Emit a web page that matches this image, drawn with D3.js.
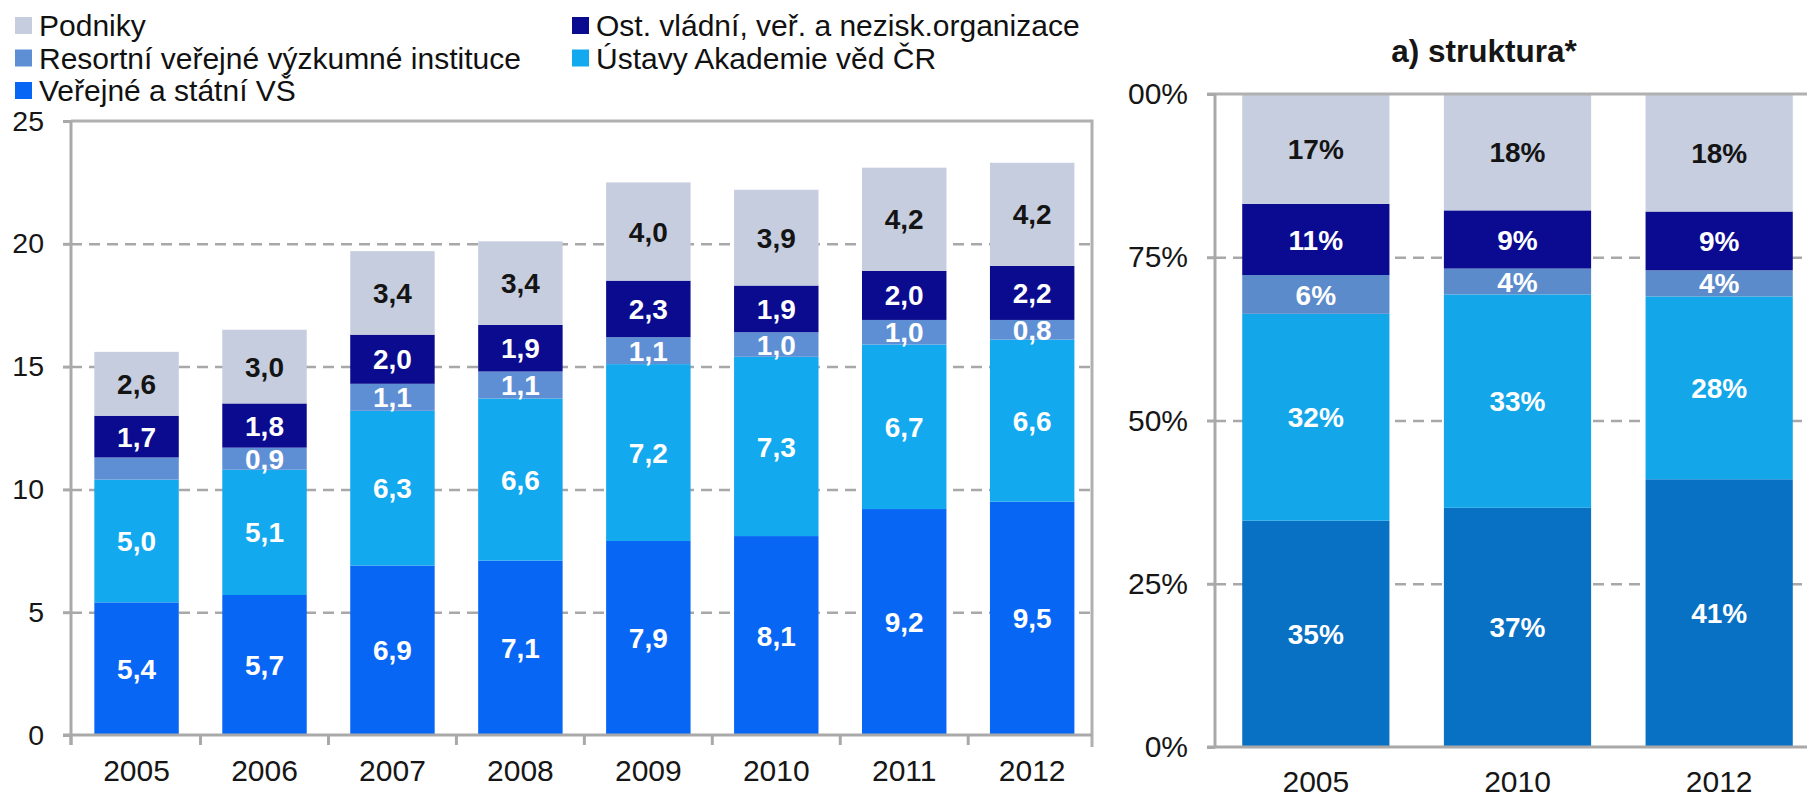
<!DOCTYPE html>
<html>
<head>
<meta charset="utf-8">
<script src="https://cdn.jsdelivr.net/npm/d3@7"></script>
<style>
body{margin:0;background:#fff;}
svg{display:block;font-family:"Liberation Sans",Arial,sans-serif;}
</style>
</head>
<body>
<svg id="chart" width="1807" height="797"></svg>
<script>
// hodnoty v mld. Kč (levý graf)
const years = ["2005", "2006", "2007", "2008", "2009", "2010", "2011", "2012"];
const vs = [5.4, 5.7, 6.9, 7.1, 7.9, 8.1, 9.2, 9.5];
const av = [5.0, 5.1, 6.3, 6.6, 7.2, 7.3, 6.7, 6.6];
const resortni = [0.9, 0.9, 1.1, 1.1, 1.1, 1.0, 1.0, 0.8];
const ostatni = [1.7, 1.8, 2.0, 1.9, 2.3, 1.9, 2.0, 2.2];
const podniky = [2.6, 3.0, 3.4, 3.4, 4.0, 3.9, 4.2, 4.2];
const hiddenLabels = [["2005", "resortni"]];
const yTicksLeft = [0, 5, 10, 15, 20, 25];

// struktura v % (pravý graf)
const structYears = ["2005", "2010", "2012"];
const structVs = [35, 37, 41];
const structAv = [32, 33, 28];
const structResortni = [6, 4, 4];
const structOstatni = [11, 9, 9];
const structPodniky = [17, 18, 18];
const yTicksRight = [0, 0.25, 0.5, 0.75, 1];

const keys = ["vs", "av", "resortni", "ost", "podniky"];
const legendOrder = ["podniky", "ost", "resortni", "av", "vs"];
const legendNames = {
  podniky: "Podniky",
  ost: "Ost. vládní, veř. a nezisk.organizace",
  resortni: "Resortní veřejné výzkumné instituce",
  av: "Ústavy Akademie věd ČR",
  vs: "Veřejné a státní VŠ"
};

const colorsLeft = {vs: "#0866f5", av: "#12a9ef", resortni: "#5e8fd4", ost: "#0b0b8f", podniky: "#c5cddf"};
const colorsRight = {vs: "#0871c4", av: "#13a7ea", resortni: "#5b8bca", ost: "#0b0b92", podniky: "#c6cedf"};
const labelColor = k => k === "podniky" ? "#141414" : "#fff";
const axisColor = "#a9a9a9";
const gridColor = "#a8a8a8";

const svg = d3.select("#chart");
const cz = d3.formatLocale({decimal: ",", thousands: "\u00a0", grouping: [3], currency: ["", " Kč"]});
const fmt1 = cz.format(".1f");

// ---------- levý graf ----------
const L = {left: 71, right: 1092, top: 121, bottom: 735};
const rows = years.map((y, i) => ({year: y, vs: vs[i], av: av[i], resortni: resortni[i], ost: ostatni[i], podniky: podniky[i]}));

const x = d3.scaleBand().domain(years).range([L.left, L.right])
  .paddingInner(0.34).paddingOuter(0.16).align(0.57);
const y = d3.scaleLinear().domain([0, 25]).range([L.bottom, L.top]);

svg.append("g")
  .attr("transform", `translate(${L.left},0)`)
  .call(d3.axisLeft(y).tickValues([5, 10, 15, 20]).tickSize(-(L.right - L.left)).tickFormat(""))
  .call(g => {
    g.select(".domain").remove();
    g.selectAll("line").attr("stroke", gridColor).attr("stroke-width", 2.5).attr("stroke-dasharray", "11,7");
  });

const stackL = d3.stack().keys(keys)(rows);
const layerL = svg.append("g").selectAll("g")
  .data(stackL)
  .join("g")
  .attr("fill", d => colorsLeft[d.key]);

layerL.selectAll("rect")
  .data(d => d)
  .join("rect")
  .attr("x", d => x(d.data.year))
  .attr("y", d => y(d[1]))
  .attr("width", x.bandwidth())
  .attr("height", d => y(d[0]) - y(d[1]));

layerL.each(function (layer) {
  d3.select(this).selectAll("text")
    .data(layer.filter(d => !hiddenLabels.some(h => h[0] === d.data.year && h[1] === layer.key)))
    .join("text")
    .attr("x", d => x(d.data.year) + x.bandwidth() / 2)
    .attr("y", d => y((d[0] + d[1]) / 2))
    .attr("dy", "0.36em")
    .attr("text-anchor", "middle")
    .attr("font-size", 28)
    .attr("font-weight", "bold")
    .attr("fill", labelColor(layer.key))
    .text(d => fmt1(d.data[layer.key]));
});

// rámeček
svg.append("path")
  .attr("d", `M${L.left},${L.top}H${L.right}V${L.bottom + 12}`)
  .attr("fill", "none").attr("stroke", "#b0b0b0").attr("stroke-width", 3);

svg.append("g")
  .attr("transform", `translate(${L.left},0)`)
  .call(d3.axisLeft(y).tickValues(yTicksLeft).tickSize(8).tickSizeOuter(0).tickPadding(19))
  .call(g => {
    g.attr("font-size", 28.5).attr("font-family", null);
    g.select(".domain").attr("d", `M0,${L.top}V${L.bottom + 10}`).attr("stroke", axisColor).attr("stroke-width", 3);
    g.selectAll(".tick line").attr("stroke", axisColor).attr("stroke-width", 3);
    g.selectAll("text").attr("fill", "#161616");
  });

svg.append("g")
  .attr("transform", `translate(0,${L.bottom})`)
  .call(d3.axisBottom(x).tickSize(0).tickSizeOuter(0).tickPadding(25))
  .call(g => {
    g.attr("font-size", 30).attr("font-family", null);
    g.select(".domain").attr("d", `M${L.left - 8},0H${L.right}`).attr("stroke", axisColor).attr("stroke-width", 3);
    g.selectAll("text").attr("fill", "#161616");
  });

const boundsL = years.slice(1).map(d => x(d) - x.step() * x.paddingInner() / 2).concat([L.left]);
svg.append("g").selectAll("line")
  .data(boundsL)
  .join("line")
  .attr("x1", d => d).attr("x2", d => d)
  .attr("y1", L.bottom).attr("y2", L.bottom + 10)
  .attr("stroke", axisColor).attr("stroke-width", 3);

// legenda
const legend = svg.append("g").selectAll("g")
  .data(legendOrder)
  .join("g")
  .attr("transform", (d, i) => `translate(${i % 2 === 0 ? 15 : 572},${36 + Math.floor(i / 2) * 32.5})`);
legend.append("rect")
  .attr("x", 0).attr("y", -19).attr("width", 17).attr("height", 17)
  .attr("fill", d => colorsLeft[d]);
legend.append("text")
  .attr("x", 24).attr("y", 0)
  .attr("font-size", 30)
  .attr("fill", "#111")
  .text(d => legendNames[d]);

// ---------- pravý graf ----------
const R = {left: 1215, right: 1820, top: 94, bottom: 747};
const structRows = structYears.map((y, i) => ({year: y, vs: structVs[i], av: structAv[i], resortni: structResortni[i], ost: structOstatni[i], podniky: structPodniky[i]}));

const x2 = d3.scaleBand().domain(structYears).range([R.left, R.right]).paddingInner(0.27).paddingOuter(0.135);
const y2 = d3.scaleLinear().domain([0, 1]).range([R.bottom, R.top]);

svg.append("g")
  .attr("transform", `translate(${R.left},0)`)
  .call(d3.axisLeft(y2).tickValues([0.25, 0.5, 0.75]).tickSize(-(1807 - R.left)).tickFormat(""))
  .call(g => {
    g.select(".domain").remove();
    g.selectAll("line").attr("stroke", gridColor).attr("stroke-width", 2.5).attr("stroke-dasharray", "11,7");
  });

const stackR = d3.stack().keys(keys).offset(d3.stackOffsetExpand)(structRows);
const layerR = svg.append("g").selectAll("g")
  .data(stackR)
  .join("g")
  .attr("fill", d => colorsRight[d.key]);

layerR.selectAll("rect")
  .data(d => d)
  .join("rect")
  .attr("x", d => x2(d.data.year))
  .attr("y", d => y2(d[1]))
  .attr("width", x2.bandwidth())
  .attr("height", d => y2(d[0]) - y2(d[1]));

layerR.each(function (layer) {
  d3.select(this).selectAll("text")
    .data(layer)
    .join("text")
    .attr("x", d => x2(d.data.year) + x2.bandwidth() / 2)
    .attr("y", d => y2((d[0] + d[1]) / 2))
    .attr("dy", "0.36em")
    .attr("text-anchor", "middle")
    .attr("font-size", 28)
    .attr("font-weight", "bold")
    .attr("fill", labelColor(layer.key))
    .text(d => d.data[layer.key] + "%");
});

svg.append("path")
  .attr("d", `M${R.left - 8},${R.top}H1807`)
  .attr("fill", "none").attr("stroke", "#b0b0b0").attr("stroke-width", 3);

// clip v souřadnicích osy (g je posunuté o R.left)
const clip = svg.append("clipPath").attr("id", "clipR").append("rect")
  .attr("x", -120).attr("y", 0).attr("width", 700).attr("height", 797);

const yAxisR = svg.append("g")
  .attr("clip-path", "url(#clipR)")
  .attr("transform", `translate(${R.left},0)`)
  .call(d3.axisLeft(y2).tickValues(yTicksRight).tickSize(8).tickSizeOuter(0).tickPadding(19).tickFormat(d3.format(".0%")))
  .call(g => {
    g.attr("font-size", 30).attr("font-family", null);
    g.select(".domain").attr("d", `M0,${R.top}V${R.bottom}`).attr("stroke", axisColor).attr("stroke-width", 3);
    g.selectAll(".tick line").attr("stroke", axisColor).attr("stroke-width", 3);
    g.selectAll("text").attr("fill", "#161616");
  });

// levá část popisku 100 % je v originále oříznutá
const probe = yAxisR.append("text").attr("font-size", 30).text("00%");
const w00 = probe.node().getComputedTextLength();
probe.remove();
clip.attr("x", -(8 + 19 + w00 + 1));

svg.append("g")
  .attr("transform", `translate(0,${R.bottom})`)
  .call(d3.axisBottom(x2).tickSize(0).tickSizeOuter(0).tickPadding(24))
  .call(g => {
    g.attr("font-size", 30).attr("font-family", null);
    g.select(".domain").attr("d", `M${R.left - 8},0H1807`).attr("stroke", axisColor).attr("stroke-width", 3);
    g.selectAll("text").attr("fill", "#161616");
  });

svg.append("text")
  .attr("x", 1484).attr("y", 62)
  .attr("text-anchor", "middle")
  .attr("font-size", 31.5)
  .attr("font-weight", "bold")
  .attr("fill", "#161616")
  .text("a) struktura*");
</script>
</body>
</html>
